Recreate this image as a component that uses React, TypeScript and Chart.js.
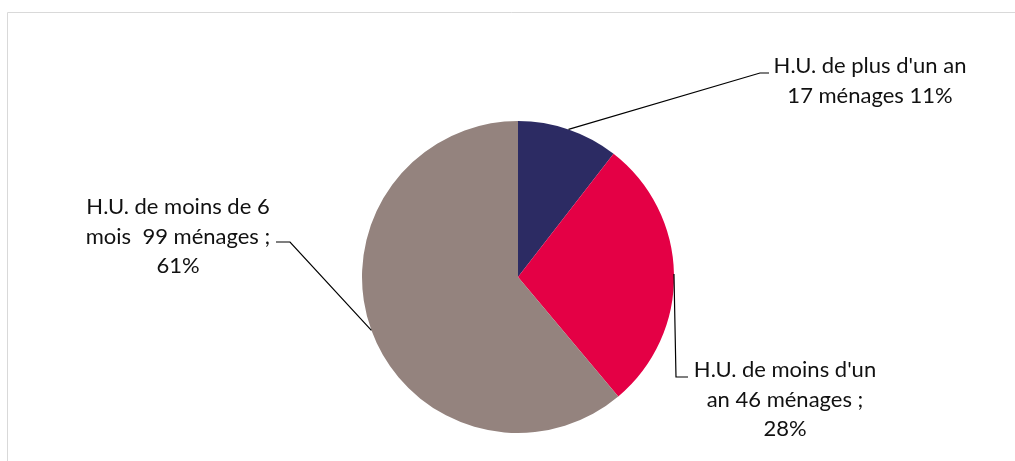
import React, { useEffect, useRef } from "react";
import { Chart, registerables } from "chart.js";

Chart.register(...registerables);

const categories = [
  "H.U. de plus d'un an",
  "H.U. de moins d'un an",
  "H.U. de moins de 6 mois",
];
const households = [17, 46, 99];
const sliceColors = ["#2C2B63", "#E40045", "#94837E"];
const labelLines: string[][] = [
  ["H.U. de plus d'un an", "17 ménages 11%"],
  ["H.U. de moins d'un", "an 46 ménages ;", "28%"],
  ["H.U. de moins de 6", "mois  99 ménages ;", "61%"],
];

// label anchor (text centre x, first-line y) and leader elbow points
const labelLayout = [
  { cx: 870, y0: 66, gap: 30, elbow: [[760, 73], [769, 73]] },
  { cx: 785, y0: 370, gap: 29.5, elbow: [[676, 377], [688, 377]] },
  { cx: 178, y0: 207, gap: 29.5, elbow: [[290, 242], [276, 242]] },
];

const FONT = "22px Lato, 'Noto Sans', sans-serif";

const labelsPlugin = {
  id: "leaderLabels",
  afterDraw(chart: any) {
    const ctx = chart.ctx as CanvasRenderingContext2D;
    ctx.save();
    // frame
    ctx.strokeStyle = "#D9D9D9";
    ctx.lineWidth = 1;
    ctx.beginPath();
    ctx.moveTo(7.5, 470);
    ctx.lineTo(7.5, 12.5);
    ctx.lineTo(1020, 12.5);
    ctx.stroke();

    const meta = chart.getDatasetMeta(0);
    meta.data.forEach((arc: any, i: number) => {
      const p = arc.getProps(["x", "y", "startAngle", "endAngle", "outerRadius"], true);
      const mid = (p.startAngle + p.endAngle) / 2;
      const sx = p.x + Math.cos(mid) * p.outerRadius;
      const sy = p.y + Math.sin(mid) * p.outerRadius;
      const lay = labelLayout[i];
      ctx.strokeStyle = "#000";
      ctx.lineWidth = 1.2;
      ctx.beginPath();
      ctx.moveTo(sx, sy);
      lay.elbow.forEach(([x, y]) => ctx.lineTo(x, y));
      ctx.stroke();

      ctx.fillStyle = "#111";
      ctx.font = FONT;
      ctx.textAlign = "center";
      ctx.textBaseline = "middle";
      labelLines[i].forEach((t, k) => {
        ctx.fillText(t, lay.cx, lay.y0 + k * lay.gap);
      });
    });
    ctx.restore();
  },
};

export default function App() {
  const ref = useRef<HTMLCanvasElement | null>(null);
  useEffect(() => {
    if (!ref.current) return;
    const chart = new Chart(ref.current, {
      type: "pie",
      data: {
        labels: categories,
        datasets: [
          {
            data: households,
            backgroundColor: sliceColors,
            borderWidth: 0,
          },
        ],
      },
      options: {
        responsive: false,
        animation: false,
        layout: { padding: { left: 362, right: 341, top: 121, bottom: 28 } },
        plugins: { legend: { display: false }, tooltip: { enabled: false } },
      },
      plugins: [labelsPlugin],
    });
    return () => chart.destroy();
  }, []);
  return (
    <div style={{ position: "fixed", left: 0, top: 0, width: 1015, height: 461, background: "#fff" }}>
      <canvas ref={ref} width={1015} height={461} style={{ display: "block" }} />
    </div>
  );
}
